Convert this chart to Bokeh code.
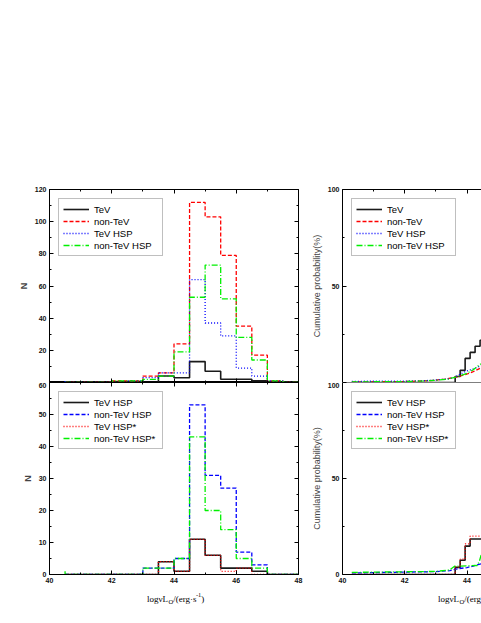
from bokeh.plotting import figure
from bokeh.layouts import row, column
from bokeh.models import Range1d, LinearAxis, FixedTicker, Legend, LegendItem, Label, Span
from bokeh.embed import file_html
from bokeh.resources import INLINE

# ---------------- data ----------------
# right edges of the 0.5-dex bins (counts belong to the bin ending at each edge)
bin_edges = [40.5, 41.0, 41.5, 42.0, 42.5, 43.0, 43.5, 44.0, 44.5, 45.0, 45.5, 46.0, 46.5, 47.0, 47.5, 48.0]

# upper-left panel
n_tev          = [0, 0, 0, 0, 0, 0, 0, 4, 3, 13, 7, 2, 2, 1, 0, 0]
n_nontev       = [0, 0, 0, 0, 1, 1, 4, 6, 24, 112, 103, 79, 35, 17, 1, 0]
n_tev_hsp      = [1, 0, 0, 0, 0, 1, 3, 6, 6, 64, 37, 29, 9, 4, 1, 0]
n_nontev_hsp   = [0, 0, 0, 0, 1, 1, 2, 4, 19, 53, 73, 52, 28, 14, 1, 0]

# lower-left panel
m_tev_hsp      = [0, 0, 0, 0, 0, 0, 0, 4, 1, 11, 6, 2, 2, 1, 0, 0]
m_nontev_hsp   = [0, 0, 0, 0, 0, 0, 2, 2, 5, 53, 31, 27, 7, 3, 0, 0]
m_tev_hsp_s    = [0, 0, 0, 0, 0, 0, 0, 4, 1, 11, 6, 1, 2, 0, 0, 0]
m_nontev_hsp_s = [1, 0, 0, 0, 0, 0, 2, 2, 5, 43, 20, 14, 5, 2, 0, 0]

# upper-right panel: cumulative probability (%)
c_tev_x        = [40.3, 43.62, 43.78, 43.94, 44.10, 44.26, 44.42, 44.60]
c_tev_y        = [0.0, 3.1, 6.3, 12.5, 15.6, 18.8, 21.9, 21.9]
c_nontev_x     = [40.3, 42.0, 42.6, 43.0, 43.3, 43.6, 43.8, 44.0, 44.2, 44.4, 44.6]
c_nontev_y     = [0.3, 0.5, 0.8, 1.2, 1.8, 2.6, 3.4, 4.4, 5.6, 7.2, 8.8]
c_tev_hsp_x    = [40.3, 42.5, 43.0, 43.4, 43.6, 43.8, 44.0, 44.2, 44.4, 44.6]
c_tev_hsp_y    = [0.6, 0.8, 1.3, 1.9, 2.6, 4.5, 6.0, 7.0, 8.4, 9.5]
c_nontev_hsp_x = [40.3, 42.0, 42.6, 43.0, 43.4, 43.6, 43.8, 44.0, 44.2, 44.4, 44.6]
c_nontev_hsp_y = [0.3, 0.5, 0.8, 1.1, 1.8, 2.6, 3.6, 4.8, 6.6, 9.2, 11.0]

# lower-right panel: cumulative probability (%)
d_tev_hsp_x      = [40.3, 43.62, 43.78, 43.94, 44.10, 44.60]
d_tev_hsp_y      = [0.0, 3.7, 7.4, 14.8, 18.5, 18.5]
d_tev_hsp_s_x    = [40.3, 43.62, 43.78, 43.94, 44.10, 44.60]
d_tev_hsp_s_y    = [0.0, 4.0, 8.0, 16.0, 20.0, 20.0]
d_nontev_hsp_x   = [40.3, 43.0, 43.45, 43.7, 44.0, 44.2, 44.45, 44.6]
d_nontev_hsp_y   = [0.8, 1.5, 2.0, 3.0, 3.6, 4.4, 5.6, 6.9]
d_nontev_hsp_s_x = [40.3, 43.0, 43.45, 43.6, 44.33, 44.4, 44.48, 44.6]
d_nontev_hsp_s_y = [1.1, 1.6, 2.4, 4.3, 4.7, 7.0, 11.6, 13.0]

x_major = [40, 42, 44, 46, 48]
x_minor = [41, 43, 45, 47]

# x-axis title pieces: text, font size, vertical shift (sub/superscript), advance width
title_left = [("logνL", "9px", 0, 21.5), ("O", "6.5px", -3, 4.7), ("/(erg·s", "9px", 0, 22.7),
              ("-1", "6.5px", 4, 5.4), (")", "9px", 0, 3.0)]
# the right-hand panel is cut by the page edge: only this part of its title is visible
title_right = [("logνL", "9px", 0, 21.5), ("O", "6.5px", -3, 4.7), ("/(erg", "9px", 0, 17.0)]

# ---------------- styling helpers ----------------
SANS = "Liberation Sans"
SERIF = "Liberation Serif"
BLACK = dict(line_color="#1a1a1a", line_width=1.6, line_dash="solid")
RED_DASH = dict(line_color="#ff0000", line_width=1.3, line_dash="4 2")
RED_DOT = dict(line_color="#ff0000", line_width=1.3, line_dash="1 2")
BLUE_DOT = dict(line_color="#0000ff", line_width=1.3, line_dash="1 2")
BLUE_DASH = dict(line_color="#0000ff", line_width=1.3, line_dash="4 2")
GREEN_DD = dict(line_color="#00f000", line_width=1.3, line_dash="6 2 1 2")

PX_PER_DEX = 249 / 8.0


def make_axis(ticks, minor, labels=True, overrides=None):
    ax = LinearAxis(ticker=FixedTicker(ticks=ticks, minor_ticks=minor))
    ax.major_tick_in = 4
    ax.major_tick_out = 0
    ax.minor_tick_in = 2
    ax.minor_tick_out = 0
    ax.axis_line_color = "black"
    ax.major_tick_line_color = "black"
    ax.minor_tick_line_color = "black"
    if labels:
        ax.major_label_text_font = SANS
        ax.major_label_text_font_size = "7px"
        ax.major_label_text_font_style = "bold"
        ax.major_label_text_color = "#111111"
        ax.major_label_standoff = 3
        if overrides:
            ax.major_label_overrides = overrides
    else:
        ax.major_label_text_font_size = "0px"
        ax.major_label_text_color = None
        ax.major_label_standoff = 0
    return ax


def base_fig(x_end, y_end, fw, fh, left, right, top, bottom, outline=True):
    p = figure(x_range=Range1d(40, x_end), y_range=Range1d(0, y_end),
               frame_width=fw, frame_height=fh,
               x_axis_type=None, y_axis_type=None,
               output_backend="svg", toolbar_location=None,
               min_border_left=left, min_border_right=right,
               min_border_top=top, min_border_bottom=bottom)
    p.background_fill_color = "white"
    p.border_fill_color = "white"
    p.outline_line_color = "black" if outline else None
    p.outline_line_width = 1
    return p


def make_legend(items):
    lg = Legend(items=[LegendItem(label=t, renderers=[r]) for t, r in items])
    lg.location = "top_left"
    lg.margin = 9
    lg.padding = 4
    lg.spacing = 0
    lg.label_height = 12
    lg.glyph_height = 12
    lg.glyph_width = 26
    lg.label_standoff = 5
    lg.label_width = 64
    lg.label_text_font = SANS
    lg.label_text_font_size = "9.5px"
    lg.label_text_color = "black"
    lg.border_line_color = "#808080"
    lg.border_line_width = 1.5
    lg.background_fill_color = "white"
    lg.background_fill_alpha = 1.0
    return lg


def style_ylabel(ax, text, bold):
    ax.axis_label = text
    ax.axis_label_text_font = SANS
    ax.axis_label_text_font_size = "9px"
    ax.axis_label_text_font_style = "bold" if bold else "normal"
    ax.axis_label_standoff = 3


LEFT = 49
GAP_R = 10
GAP_L = 34
TOP = 189
FW_L = 249
FW_R = 139

# ---------------- upper-left ----------------
tl = base_fig(48, 120, FW_L, 193, LEFT, GAP_R, TOP, 0)
tl.add_layout(make_axis([0, 20, 40, 60, 80, 100, 120], [10, 30, 50, 70, 90, 110],
                        overrides={0: ""}), "left")
tl.add_layout(make_axis([0, 20, 40, 60, 80, 100, 120], [10, 30, 50, 70, 90, 110], labels=False), "right")
tl.add_layout(make_axis(x_major, x_minor, labels=False), "above")
tl.add_layout(make_axis(x_major, x_minor, labels=False), "below")
style_ylabel(tl.left[0], "N", True)

r1 = tl.step(bin_edges, n_tev, mode="before", **BLACK)
r2 = tl.step(bin_edges, n_nontev, mode="before", **RED_DASH)
r3 = tl.step(bin_edges, n_tev_hsp, mode="before", **BLUE_DOT)
r4 = tl.step(bin_edges, n_nontev_hsp, mode="before", **GREEN_DD)
tl.add_layout(make_legend([("TeV", r1), ("non-TeV", r2), ("TeV HSP", r3), ("non-TeV HSP", r4)]))

# ---------------- lower-left ----------------
bl = base_fig(48, 60, FW_L, 192, LEFT, GAP_R, 0, 17)
bl.add_layout(make_axis([0, 10, 20, 30, 40, 50, 60], [5, 15, 25, 35, 45, 55]), "left")
bl.add_layout(make_axis([0, 10, 20, 30, 40, 50, 60], [5, 15, 25, 35, 45, 55], labels=False), "right")
bl.add_layout(make_axis(x_major, x_minor, labels=False), "above")
bl.add_layout(make_axis(x_major, x_minor), "below")
style_ylabel(bl.left[0], "N", True)

s1 = bl.step(bin_edges, m_tev_hsp, mode="before", **BLACK)
s2 = bl.step(bin_edges, m_nontev_hsp, mode="before", **BLUE_DASH)
s3 = bl.step(bin_edges, m_tev_hsp_s, mode="before", **RED_DOT)
s4 = bl.step(bin_edges, m_nontev_hsp_s, mode="before", **GREEN_DD)
bl.add_layout(make_legend([("TeV HSP", s1), ("non-TeV HSP", s2), ("TeV HSP*", s3), ("non-TeV HSP*", s4)]))

# ---------------- upper-right ----------------
x_end_r = 40 + FW_R / PX_PER_DEX
tr = base_fig(x_end_r, 100, FW_R, 193, GAP_L, 0, TOP, 0, outline=False)
tr.add_layout(make_axis([0, 50, 100], [25, 75], overrides={0: ""}), "left")
tr.add_layout(make_axis(x_major, x_minor, labels=False), "above")
style_ylabel(tr.left[0], "Cumulative probability(%)", False)
tr.add_layout(Span(location=0, dimension="width", line_color="black", line_width=1))

t1 = tr.step(c_tev_x, c_tev_y, mode="after", **BLACK)
t2 = tr.line(c_nontev_x, c_nontev_y, **RED_DASH)
t3 = tr.line(c_tev_hsp_x, c_tev_hsp_y, **BLUE_DOT)
t4 = tr.line(c_nontev_hsp_x, c_nontev_hsp_y, **GREEN_DD)
tr.add_layout(make_legend([("TeV", t1), ("non-TeV", t2), ("TeV HSP", t3), ("non-TeV HSP", t4)]))

# ---------------- lower-right ----------------
br = base_fig(x_end_r, 100, FW_R, 192, GAP_L, 0, 0, 17, outline=False)
br.add_layout(make_axis([0, 50, 100], [25, 75]), "left")
br.add_layout(make_axis(x_major, x_minor), "below")
style_ylabel(br.left[0], "Cumulative probability(%)", False)
br.add_layout(Span(location=100, dimension="width", line_color="black", line_width=1))

u1 = br.step(d_tev_hsp_x, d_tev_hsp_y, mode="after", **BLACK)
u2 = br.line(d_nontev_hsp_x, d_nontev_hsp_y, **BLUE_DASH)
u3 = br.step(d_tev_hsp_s_x, d_tev_hsp_s_y, mode="after", **RED_DOT)
u4 = br.line(d_nontev_hsp_s_x, d_nontev_hsp_s_y, **GREEN_DD)
br.add_layout(make_legend([("TeV HSP", u1), ("non-TeV HSP", u2), ("TeV HSP*", u3), ("non-TeV HSP*", u4)]))

# ---------------- x-axis titles (strip below the panels) ----------------
total_w = LEFT + FW_L + GAP_R + GAP_L + FW_R
strip_h = 32
strip = figure(x_range=Range1d(0, total_w), y_range=Range1d(0, strip_h),
               frame_width=total_w, frame_height=strip_h,
               x_axis_type=None, y_axis_type=None,
               output_backend="svg", toolbar_location=None,
               min_border_left=0, min_border_right=0, min_border_top=0, min_border_bottom=0)
strip.outline_line_color = None
strip.background_fill_color = "white"
strip.border_fill_color = "white"

left_axis_x0 = LEFT                          # screen x of logL = 40, left panels
right_axis_x0 = LEFT + FW_L + GAP_R + GAP_L  # screen x of logL = 40, right panels
for x0, pieces, shift in ((left_axis_x0, title_left, -27), (right_axis_x0, title_right, -29)):
    start = x0 + (44 - 40) * PX_PER_DEX + shift
    off = 0.0
    for txt, fs, dy, w in pieces:
        strip.add_layout(Label(x=start + off, y=strip_h - 7 + dy, text=txt,
                               text_font=SERIF, text_font_size=fs, text_color="black",
                               text_align="left", text_baseline="middle"))
        off += w

layout = column(row(column(tl, bl), column(tr, br)), strip)
open("out.html", "w").write(file_html(layout, INLINE))
